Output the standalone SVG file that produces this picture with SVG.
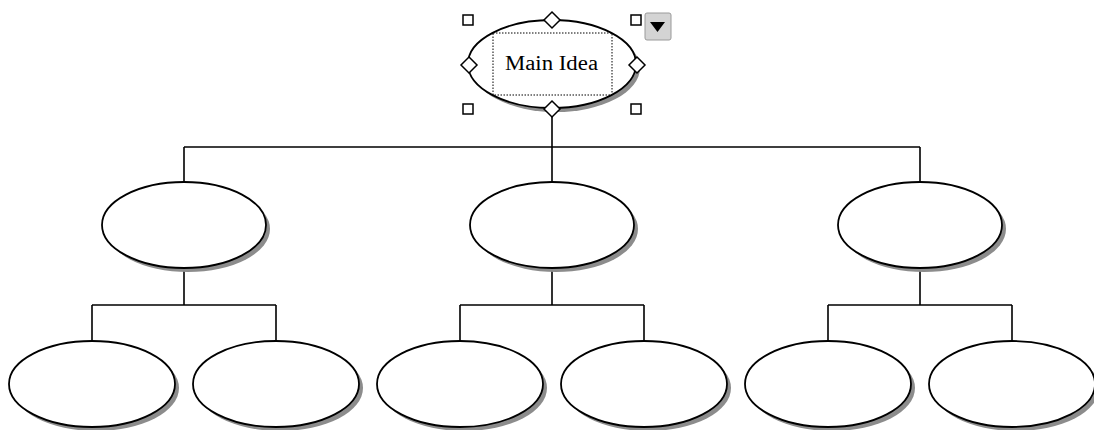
<svg xmlns="http://www.w3.org/2000/svg" width="1094" height="430" viewBox="0 0 1094 430">
<defs>
<style>
.sh{fill:#8c8c8c;stroke:none}
.el{fill:#fff;stroke:#000;stroke-width:1.8}
.ln{fill:none;stroke:#000;stroke-width:1.6}
.hd{fill:#fff;stroke:#000;stroke-width:1.5}
.lbl{font-family:"Liberation Serif",serif;font-size:20px;fill:#000}
</style>
</defs>
<rect width="1094" height="430" fill="#fff"/>
<g id="connectors">
<path class="ln" d="M552,109 V147 M184,147 H920 M184,147 V182 M552,147 V182 M920,147 V182"/>
<path class="ln" d="M184,268 V305 M92,305 H276 M92,305 V341 M276,305 V341"/>
<path class="ln" d="M552,268 V305 M460,305 H644 M460,305 V341 M644,305 V341"/>
<path class="ln" d="M920,268 V305 M828,305 H1012 M828,305 V341 M1012,305 V341"/>
</g>
<g id="main">
<ellipse class="sh" cx="556" cy="68" rx="84" ry="44"/>
<ellipse class="el" cx="552" cy="64" rx="84" ry="44"/>
<rect x="493" y="33" width="119" height="62" fill="none" stroke="#000" stroke-width="1" stroke-dasharray="1.5,1.5"/>
<text class="lbl" x="551.5" y="70" text-anchor="middle" textLength="93" lengthAdjust="spacingAndGlyphs">Main Idea</text>
<rect class="hd" x="463" y="15" width="10" height="10"/>
<rect class="hd" x="631" y="15" width="10" height="10"/>
<rect class="hd" x="463" y="104" width="10" height="10"/>
<rect class="hd" x="631" y="104" width="10" height="10"/>
<path class="hd" d="M552,12 L560,20 L552,28 L544,20 Z"/>
<path class="hd" d="M469,57 L477,65 L469,73 L461,65 Z"/>
<path class="hd" d="M637,57 L645,65 L637,73 L629,65 Z"/>
<path class="hd" d="M552,101 L560,109 L552,117 L544,109 Z"/>
<rect x="645" y="13" width="26" height="27" rx="2" fill="#d4d4d4" stroke="#9a9a9a" stroke-width="1"/>
<path d="M650,22 H665 L657.5,32 Z" fill="#000"/>
</g>
<g id="n2a"><ellipse class="sh" cx="188" cy="229" rx="82" ry="43"/><ellipse class="el" cx="184" cy="225" rx="82" ry="43"/></g>
<g id="n2b"><ellipse class="sh" cx="556" cy="229" rx="82" ry="43"/><ellipse class="el" cx="552" cy="225" rx="82" ry="43"/></g>
<g id="n2c"><ellipse class="sh" cx="924" cy="229" rx="82" ry="43"/><ellipse class="el" cx="920" cy="225" rx="82" ry="43"/></g>
<g id="n3a"><ellipse class="sh" cx="96" cy="388" rx="83" ry="43"/><ellipse class="el" cx="92" cy="384" rx="83" ry="43"/></g>
<g id="n3b"><ellipse class="sh" cx="280" cy="388" rx="83" ry="43"/><ellipse class="el" cx="276" cy="384" rx="83" ry="43"/></g>
<g id="n3c"><ellipse class="sh" cx="464" cy="388" rx="83" ry="43"/><ellipse class="el" cx="460" cy="384" rx="83" ry="43"/></g>
<g id="n3d"><ellipse class="sh" cx="648" cy="388" rx="83" ry="43"/><ellipse class="el" cx="644" cy="384" rx="83" ry="43"/></g>
<g id="n3e"><ellipse class="sh" cx="832" cy="388" rx="83" ry="43"/><ellipse class="el" cx="828" cy="384" rx="83" ry="43"/></g>
<g id="n3f"><ellipse class="sh" cx="1016" cy="388" rx="83" ry="43"/><ellipse class="el" cx="1012" cy="384" rx="83" ry="43"/></g>
</svg>
